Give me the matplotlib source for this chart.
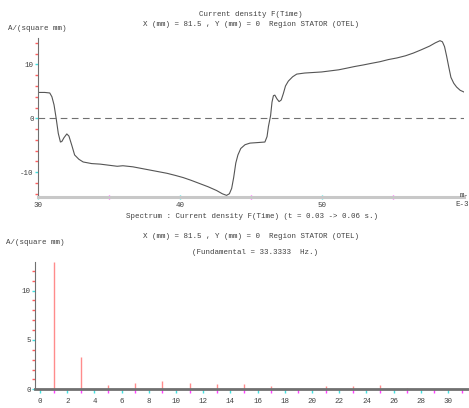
import matplotlib
matplotlib.use("Agg")
import matplotlib.pyplot as plt
from matplotlib.ticker import FixedLocator

# ---------------- data ----------------
time_ms = [30.0, 30.5, 30.85, 31.0, 31.15, 31.3, 31.45, 31.6, 31.7, 31.85, 32.05, 32.2,
           32.4, 32.6, 32.9, 33.2, 33.8, 34.4, 35.0, 35.6, 36.0, 36.7, 37.3, 37.9, 38.5,
           39.1, 39.7, 40.25, 40.8, 41.4, 42.0, 42.6, 43.0, 43.3, 43.5, 43.66, 43.8,
           43.95, 44.1, 44.3, 44.6, 44.95, 45.5, 46.0, 46.15, 46.25, 46.4, 46.5, 46.6,
           46.7, 46.85, 47.0, 47.15, 47.3, 47.45, 47.65, 47.95, 48.24, 48.8, 49.4, 50.0,
           50.6, 51.2, 51.76, 52.3, 52.93, 53.5, 54.1, 54.7, 55.3, 55.9, 56.45, 57.0,
           57.6, 58.0, 58.33, 58.5, 58.65, 58.8, 58.95, 59.1, 59.3, 59.5, 59.75, 60.0]
current_density = [4.8, 4.8, 4.7, 4.0, 2.5, 0.0, -2.8, -4.4, -4.3, -3.6, -2.9, -3.3,
                   -5.0, -6.8, -7.6, -8.1, -8.4, -8.5, -8.7, -8.9, -8.8, -9.0, -9.3, -9.6,
                   -9.9, -10.2, -10.6, -11.0, -11.5, -12.1, -12.7, -13.4, -14.0, -14.3,
                   -14.0, -13.0, -11.0, -8.3, -6.8, -5.6, -4.9, -4.6, -4.5, -4.4, -3.4,
                   -1.5, 0.5, 3.0, 4.2, 4.3, 3.6, 3.1, 3.4, 4.6, 6.0, 6.9, 7.7, 8.2, 8.4,
                   8.5, 8.6, 8.8, 9.0, 9.3, 9.6, 9.9, 10.2, 10.5, 10.9, 11.2, 11.6, 12.1,
                   12.7, 13.4, 14.0, 14.4, 14.2, 13.3, 11.5, 9.5, 7.6, 6.5, 5.8, 5.2, 4.9]

harmonic_rank = [1, 3, 5, 7, 9, 11, 13, 15, 17, 19, 21, 23, 25, 27, 29, 31]
harmonic_amp = [12.9, 3.3, 0.44, 0.67, 0.84, 0.67, 0.54, 0.54, 0.33, 0.08, 0.33, 0.33,
                0.4, 0.15, 0.08, 0.08]

top_xticks = [30, 40, 50]
top_xticklabels = ["30", "40", "50"]
top_yticks = [-10, 0, 10]
top_yticklabels = ["-10", "0", "10"]
bot_xticks = list(range(0, 31, 2))
bot_xticklabels = [str(v) for v in bot_xticks]
bot_yticks = [0, 5, 10]
bot_yticklabels = ["0", "5", "10"]

# ---------------- figure ----------------
W, H = 469, 408
fig = plt.figure(figsize=(W / 100, H / 100), dpi=100)
FONT = "Liberation Mono"
FS = 5.4
TXT = "#404040"
CYAN = "#40e0e0"
RED = "#ff6060"
MAG = "#ff40ff"


def fx(x):
    return x / W


def fy(y):
    return 1 - y / H


def rect(x0, y0, x1, y1):
    return [fx(x0), fy(y1), fx(x1) - fx(x0), fy(y0) - fy(y1)]


# ---- top axes ----
ax1 = fig.add_axes(rect(37.7, 38, 463.7, 197))
ax1.plot(time_ms, current_density, color="#555555", lw=0.8)
ax1.axhline(0, color="#707070", lw=0.8, dashes=(6, 4))
ax1.set_xlim(30, 60)
ax1.set_ylim(-14.6, 14.9)
for s in ("top", "right"):
    ax1.spines[s].set_visible(False)
ax1.spines["left"].set_color("#707070")
ax1.spines["left"].set_linewidth(0.8)
ax1.spines["bottom"].set_color("#c8c8c8")
ax1.spines["bottom"].set_linewidth(2.2)
ax1.set_xticks(top_xticks)
ax1.set_xticklabels(top_xticklabels)
ax1.xaxis.set_minor_locator(FixedLocator([35, 45, 55]))
ax1.set_yticks(top_yticks)
ax1.set_yticklabels(top_yticklabels)
ax1.yaxis.set_minor_locator(FixedLocator([-14, -12, -8, -6, -4, -2, 2, 4, 6, 8, 12, 14]))
ax1.tick_params(axis="x", which="major", color=CYAN, length=2.5, width=1, direction="inout",
                labelsize=FS, labelcolor=TXT, pad=2)
ax1.tick_params(axis="x", which="minor", color=MAG, length=2.5, width=1, direction="inout")
ax1.tick_params(axis="y", which="major", color=CYAN, length=2, width=1, direction="out",
                labelsize=FS, labelcolor=TXT, pad=1)
ax1.tick_params(axis="y", which="minor", color=RED, length=2, width=1, direction="out")
for lab in ax1.get_xticklabels() + ax1.get_yticklabels():
    lab.set_family(FONT)

# ---- bottom axes ----
ax2 = fig.add_axes(rect(35, 262, 469, 389.3))
ax2.vlines(harmonic_rank, 0, harmonic_amp, color="#ff8c8c", lw=1.0)
ax2.set_xlim(-0.37, 31.54)
ax2.set_ylim(0, 12.9)
for s in ("top", "right"):
    ax2.spines[s].set_visible(False)
ax2.spines["left"].set_color("#707070")
ax2.spines["left"].set_linewidth(0.8)
ax2.spines["bottom"].set_color("#707070")
ax2.spines["bottom"].set_linewidth(2.0)
ax2.set_xticks(bot_xticks)
ax2.set_xticklabels(bot_xticklabels)
ax2.xaxis.set_minor_locator(FixedLocator(harmonic_rank))
ax2.set_yticks(bot_yticks)
ax2.set_yticklabels(bot_yticklabels)
ax2.yaxis.set_minor_locator(FixedLocator([1, 2, 3, 4, 6, 7, 8, 9, 11, 12]))
ax2.tick_params(axis="x", which="major", color=CYAN, length=3, width=1, direction="out",
                labelsize=FS, labelcolor=TXT, pad=3)
ax2.tick_params(axis="x", which="minor", color=MAG, length=3, width=1, direction="out")
ax2.tick_params(axis="y", which="major", color=CYAN, length=2, width=1, direction="out",
                labelsize=FS, labelcolor=TXT, pad=1)
ax2.tick_params(axis="y", which="minor", color=RED, length=2, width=1, direction="out")
for lab in ax2.get_xticklabels() + ax2.get_yticklabels():
    lab.set_family(FONT)

# ---- texts ----
def t(x, y, s, ha="center"):
    fig.text(fx(x), fy(y), s, ha=ha, va="center", fontsize=FS, family=FONT, color=TXT)


t(251, 15, "Current density F(Time)")
t(251, 25, "X (mm) = 81.5 , Y (mm) = 0  Region STATOR (OTEL)")
t(8, 29, "A/(square mm)", ha="left")
t(469, 205, "E-3", ha="right")
t(469, 195, "m-", ha="right")
t(252, 217, "Spectrum : Current density F(Time) (t = 0.03 -> 0.06 s.)")
t(251, 236, "X (mm) = 81.5 , Y (mm) = 0  Region STATOR (OTEL)")
t(255, 253, "(Fundamental = 33.3333  Hz.)")
t(6, 243, "A/(square mm)", ha="left")

fig.savefig("out.png", dpi=100)
